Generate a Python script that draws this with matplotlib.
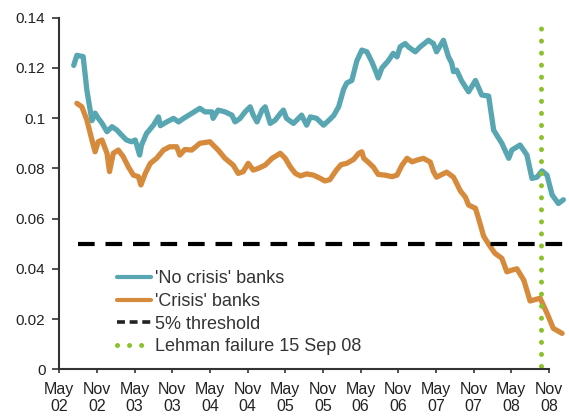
import numpy as np
import matplotlib
matplotlib.use("Agg")
import matplotlib.pyplot as plt

# x values are months since May 2002
no_crisis_months = [2.3, 2.8, 3.8, 4.4, 5.2, 5.7, 6.2, 6.8, 7.6, 8.4, 9.2, 9.9, 10.7, 11.5,
                    12.1, 12.8, 13.1, 13.9, 15.0, 15.8, 16.1, 17.1, 18.2, 19.0, 19.8, 21.1,
                    22.4, 23.2, 24.3, 24.5, 25.3, 26.4, 27.5, 28.0, 28.8, 29.6, 30.4, 30.9,
                    31.5, 32.3, 32.8, 33.6, 34.4, 35.2, 35.7, 36.2, 37.3, 38.1, 38.6, 39.4,
                    40.0, 41.0, 42.1, 43.1, 43.7, 44.5, 45.3, 45.8, 46.6, 47.4, 48.2, 49.0,
                    49.8, 50.6, 50.8, 51.4, 52.4, 53.2, 53.8, 54.3, 55.1, 55.6, 56.7, 57.5,
                    58.8, 59.6, 60.1, 61.2, 62.0, 62.5, 62.8, 63.3, 64.1, 65.2, 66.3, 67.3,
                    68.4, 69.2, 70.5, 71.6, 72.1, 73.4, 74.5, 75.3, 76.1, 76.9, 77.7, 78.5,
                    79.5, 80.3]
no_crisis_vals = [0.121, 0.125, 0.1245, 0.111, 0.099, 0.102, 0.100, 0.098, 0.0946, 0.0966,
                  0.0952, 0.0933, 0.0913, 0.0906, 0.0913, 0.0853, 0.0893, 0.0939, 0.0972,
                  0.1005, 0.097, 0.0985, 0.0999, 0.0985, 0.0999, 0.1019, 0.1039, 0.1025,
                  0.1025, 0.0999, 0.1032, 0.1025, 0.1012, 0.0985, 0.0999, 0.1025, 0.1045,
                  0.1012, 0.0985, 0.1032, 0.1045, 0.0979, 0.0992, 0.1018, 0.1032, 0.0999,
                  0.0979, 0.0999, 0.1012, 0.0972, 0.1005, 0.0999, 0.0972, 0.0995, 0.1010,
                  0.1045, 0.1115, 0.1140, 0.1150, 0.1228, 0.1271, 0.1264, 0.1224, 0.1175,
                  0.1160, 0.1200, 0.1228, 0.1258, 0.1244, 0.1284, 0.1297, 0.1284, 0.1264,
                  0.1284, 0.1310, 0.1297, 0.1264, 0.1310, 0.1244, 0.1220, 0.1185, 0.1191,
                  0.1148, 0.1105, 0.1150, 0.1092, 0.1088, 0.0952, 0.0900, 0.0840, 0.0873,
                  0.0893, 0.0853, 0.0760, 0.0765, 0.0790, 0.0773, 0.0695, 0.0660, 0.0675]

crisis_months = [2.8, 3.6, 4.4, 5.2, 5.7, 6.2, 6.8, 7.6, 8.0, 8.6, 9.4, 10.2, 11.0, 11.8,
                 12.6, 13.0, 13.7, 14.5, 15.5, 16.6, 17.6, 18.7, 19.2, 20.0, 21.1, 22.4,
                 24.0, 24.5, 25.3, 26.4, 27.7, 28.5, 29.3, 30.1, 30.9, 31.7, 32.8, 33.9,
                 35.2, 36.0, 36.8, 37.6, 38.4, 39.4, 40.5, 41.6, 42.3, 43.1, 44.2, 44.9,
                 45.8, 46.9, 47.7, 48.2, 48.5, 49.2, 50.0, 50.8, 51.9, 53.0, 53.8, 54.6,
                 55.4, 56.2, 57.0, 58.0, 59.1, 59.6, 60.1, 61.7, 62.8, 63.9, 64.7, 65.2,
                 66.3, 66.8, 67.6, 68.4, 69.4, 70.5, 71.3, 72.1, 72.9, 74.0, 75.0, 76.6,
                 77.7, 78.7, 80.1]
crisis_vals = [0.1059, 0.1045, 0.0992, 0.0913, 0.0866, 0.0906, 0.0913, 0.086, 0.0787,
               0.086, 0.0873, 0.0846, 0.0806, 0.0773, 0.0767, 0.0734, 0.078, 0.082, 0.084,
               0.0873, 0.0886, 0.0886, 0.0853, 0.0875, 0.0873, 0.0900, 0.0906, 0.0893,
               0.0873, 0.0840, 0.0813, 0.0780, 0.0787, 0.0820, 0.0793, 0.0800, 0.0813,
               0.0840, 0.0860, 0.0840, 0.0806, 0.0780, 0.0770, 0.0778, 0.0773, 0.0760,
               0.0750, 0.0755, 0.0795, 0.0815, 0.0820, 0.0836, 0.0860, 0.0866, 0.0840,
               0.0825, 0.0806, 0.0776, 0.0773, 0.0767, 0.0773, 0.0813, 0.0840, 0.0826,
               0.0833, 0.0840, 0.0825, 0.0787, 0.0765, 0.0785, 0.0765, 0.0710, 0.0685,
               0.0654, 0.0641, 0.0600, 0.0530, 0.0498, 0.0462, 0.0442, 0.0388, 0.0395,
               0.0400, 0.0355, 0.0272, 0.0283, 0.0223, 0.0163, 0.0143]

threshold = 0.05
lehman_month = 76.7
tick_months = list(range(0, 79, 6))
tick_labels = ["May\n02", "Nov\n02", "May\n03", "Nov\n03", "May\n04", "Nov\n04", "May\n05",
               "Nov\n05", "May\n06", "Nov\n06", "May\n07", "Nov\n07", "May\n08", "Nov\n08"]

plt.rcParams['font.family'] = ['Liberation Sans', 'DejaVu Sans']

fig = plt.figure(figsize=(5.69, 4.16), dpi=100)
ax = fig.add_axes([0.1042, 0.1123, 0.8958, 0.8452])

ax.plot(no_crisis_months, no_crisis_vals, color='#58a6b2', lw=3.8,
        solid_joinstyle='round', solid_capstyle='round', label="'No crisis' banks")
ax.plot(crisis_months, crisis_vals, color='#d68a3c', lw=3.8,
        solid_joinstyle='round', solid_capstyle='round', label="'Crisis' banks")
ax.plot([3.0, 81.5], [threshold, threshold], color='black', lw=3,
        dashes=(4, 2.6), dash_capstyle='butt', label='5% threshold')
ax.plot([lehman_month, lehman_month], [0.0015, 0.137], color='#8cc12a', lw=3.6,
        dashes=(0.01, 2.4), dash_capstyle='round', label='Lehman failure 15 Sep 08')

ax.set_xlim(0, 81.2)
ax.set_ylim(0, 0.14)
ax.set_yticks([0, 0.02, 0.04, 0.06, 0.08, 0.1, 0.12, 0.14])
ax.set_yticklabels(['0', '0.02', '0.04', '0.06', '0.08', '0.1', '0.12', '0.14'])
ax.set_xticks(tick_months)
ax.set_xticklabels(tick_labels)

for side in ['top', 'right']:
    ax.spines[side].set_visible(False)
for side in ['left', 'bottom']:
    ax.spines[side].set_linewidth(1.5)
    ax.spines[side].set_color('#333333')
ax.spines['bottom'].set_bounds(0, 78)

ax.tick_params(axis='y', direction='out', length=5, width=1.2, pad=5,
               labelsize=11, colors='#333333', labelcolor='#222222')
ax.tick_params(axis='x', direction='out', length=3, width=1.2, pad=6,
               labelsize=11.5, colors='#333333', labelcolor='#222222')

leg = ax.legend(loc='lower left', bbox_to_anchor=(0.113, 0.04), frameon=False,
                fontsize=13, handlelength=1.9, handletextpad=0.2, labelspacing=0.31,
                borderpad=0, borderaxespad=0, labelcolor='#333333')
leg_lines = leg.get_lines()
for line in leg_lines[:2]:
    line.set_linewidth(3)
leg_lines[2].set_linewidth(2.6)
leg_lines[2].set_dashes((2.2, 1.3))
leg_lines[2].set_color('#222222')

fig.savefig('out.png', dpi=100)
